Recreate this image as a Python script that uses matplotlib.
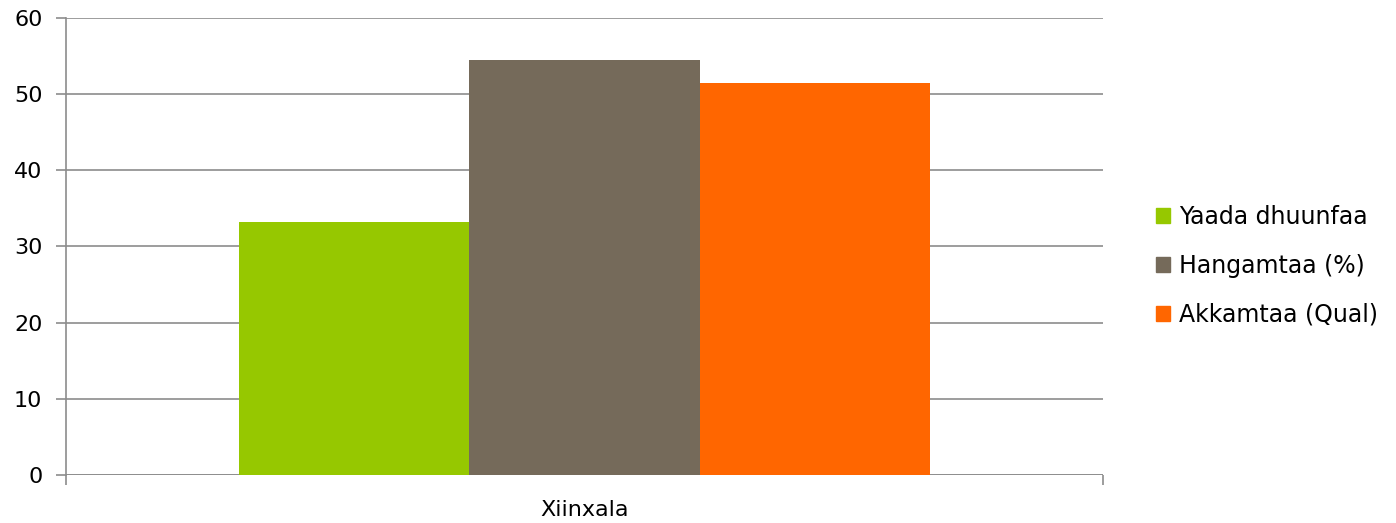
import matplotlib
matplotlib.use("Agg")
import matplotlib.pyplot as plt
from matplotlib.patches import Patch

plt.rcParams["font.family"] = ["DejaVu Sans"]

category = "Xiinxala"
series = ["Yaada dhuunfaa", "Hangamtaa (%)", "Akkamtaa (Qual)"]
values = [33.2, 54.5, 51.5]
colors = ["#96c800", "#756a5a", "#ff6600"]
yticks = [0, 10, 20, 30, 40, 50, 60]

fig = plt.figure(figsize=(13.96, 5.23), dpi=100)
ax = fig.add_axes([0.0473, 0.0918, 0.7428, 0.8738])

width = 0.222
for i, (name, v, c) in enumerate(zip(series, values, colors)):
    ax.bar((i - 1) * width, v, width=width, color=c, label=name, zorder=2)

ax.set_xlim(-0.5, 0.5)
ax.set_ylim(0, 60)
ax.set_yticks(yticks)
ax.yaxis.grid(True, color="#8c8c8c", linewidth=1.2, zorder=0)
for side in ("top", "right", "bottom"):
    ax.spines[side].set_visible(False)
ax.spines["left"].set_color("#8c8c8c")
ax.spines["left"].set_linewidth(1.2)

ax.set_xticks([0])
ax.set_xticklabels([category])
ax.set_xticks([-0.5, 0.5], minor=True)
ax.tick_params(axis="x", which="major", length=0, pad=18, labelsize=16)
ax.tick_params(axis="x", which="minor", length=7, width=1.2, color="#8c8c8c", direction="out")
ax.tick_params(axis="y", length=7, width=1.2, color="#8c8c8c", labelsize=16, pad=10)
# baseline drawn as the zero gridline
ax.axhline(0, color="#8c8c8c", linewidth=1.2, zorder=1)

handles = [Patch(color=c, label=s) for s, c in zip(series, colors)]
fig.legend(handles=handles, loc="center left", bbox_to_anchor=(0.813, 0.492),
           frameon=False, fontsize=17, handlelength=0.6, handleheight=0.6,
           handletextpad=0.35, labelspacing=1.05)

fig.savefig("out.png", dpi=100)
